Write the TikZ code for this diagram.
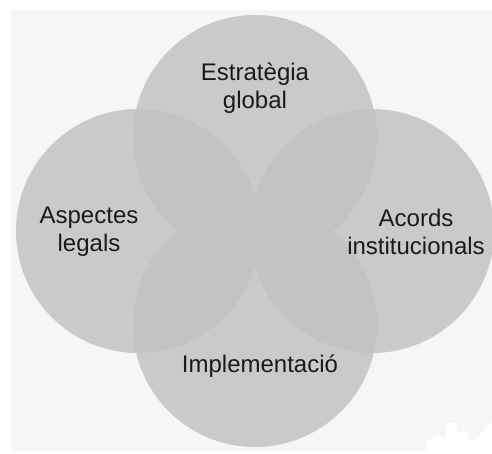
\documentclass[tikz,border=0pt]{standalone}
\usepackage{fontspec}
\setmainfont{Liberation Sans}
\definecolor{bgcol}{HTML}{F6F6F6}
\definecolor{circcol}{HTML}{CACACA}
\definecolor{lapcol}{HTML}{C3C3C3}
\definecolor{txtcol}{HTML}{1A1A1A}
\begin{document}
\begin{tikzpicture}[x=1pt,y=-1pt,
  lbl/.style={font=\fontsize{24}{28}\selectfont, align=center, text=txtcol, inner sep=0pt}]
\useasboundingbox (0,0) rectangle (492,453);
\fill[white] (0,0) rectangle (492,453);
\fill[bgcol] (11,10) rectangle (492,451);
% faint white blob at the lower right corner
\fill[white] (425,453) -- (427,441) -- (437,436) -- (446,436) -- (447,423) -- (456,423) -- (457,432) -- (467,431) -- (469,440) -- (476,439) -- (492,420) -- (492,453) -- cycle;
\begin{scope}
\clip (0,0) rectangle (492,453);
% circles
\coordinate (ct) at (255,137);
\coordinate (cb) at (255,325);
\coordinate (cl) at (138,231);
\coordinate (cr) at (372,231);
\foreach \c in {ct,cb,cl,cr} \fill[circcol] (\c) circle[radius=122];
% pairwise overlaps
\begin{scope}\clip (ct) circle[radius=122]; \fill[lapcol] (cl) circle[radius=122]; \fill[lapcol] (cr) circle[radius=122]; \fill[lapcol] (cb) circle[radius=122];\end{scope}
\begin{scope}\clip (cb) circle[radius=122]; \fill[lapcol] (cl) circle[radius=122]; \fill[lapcol] (cr) circle[radius=122];\end{scope}
\begin{scope}\clip (cl) circle[radius=122]; \fill[lapcol] (cr) circle[radius=122];\end{scope}
\end{scope}
\node[lbl] (top) at (255,88) {Estratègia\\global};
\node[lbl] (left) at (89,232) {Aspectes\\legals};
\node[lbl] (right) at (416,232) {Acords\\institucionals};
\node[lbl] (bottom) at (260,366) {Implementació};
\end{tikzpicture}
\end{document}
